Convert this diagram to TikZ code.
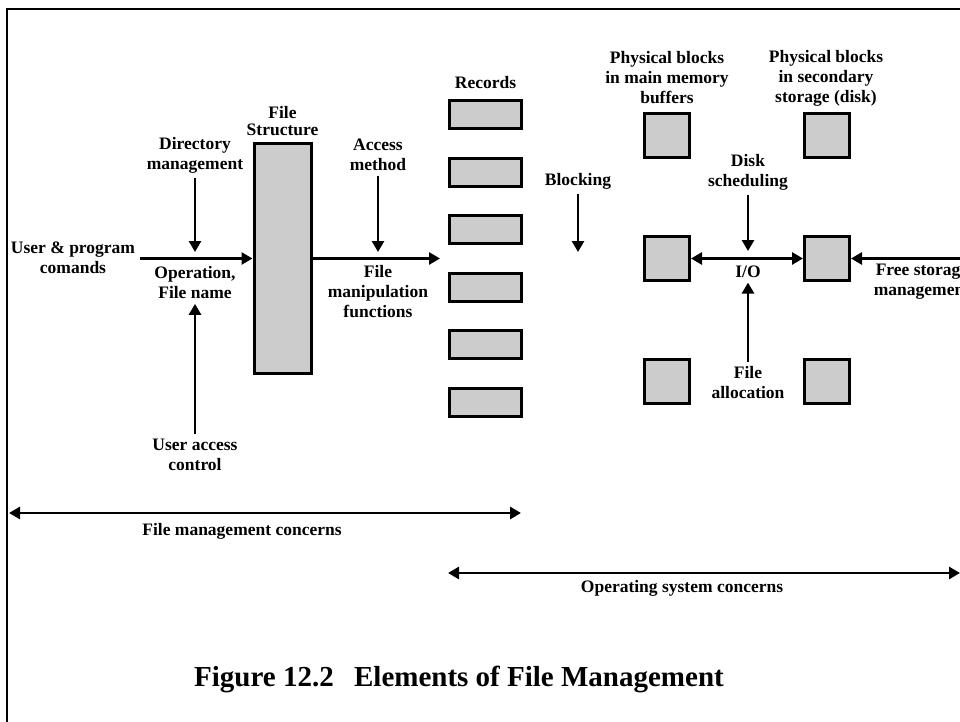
\documentclass[tikz,border=0pt]{standalone}
\usepackage{fontspec}
\setmainfont{Liberation Serif}
\usetikzlibrary{arrows.meta}
\begin{document}
\begin{tikzpicture}[x=1pt,y=-1pt,
  lbl/.style={font=\fontsize{17.5}{20}\selectfont\bfseries,align=center,inner sep=4.5pt},
  blk/.style={draw,line width=3pt,fill=black!20},
  arr/.style={line width=2.8pt,-{Triangle[length=11pt,width=12pt]}},
  darr/.style={line width=2.8pt,{Triangle[length=11pt,width=12pt]}-{Triangle[length=11pt,width=12pt]}}]
\useasboundingbox (0,0) rectangle (960,722);
\clip (0,0) rectangle (960,722);
\fill[white] (0,0) rectangle (960,722);
% frame
\draw[line width=2.2pt] (7,740) -- (7,9) -- (980,9);

% file structure
\node[blk,minimum width=57pt,minimum height=229pt] (fs) at (282.5,258.5) {};
\node[lbl,font=\fontsize{17.5}{17}\selectfont\bfseries] (fsl) at (282.5,121) {File\\Structure};

\node[lbl] (dm) at (195,155) {Directory\\management};
\node[lbl] (upc) at (73,258) {User \& program\\comands};
\node[lbl] (opf) at (195,283) {Operation,\\File name};
\node[lbl] (uac) at (195,455) {User access\\control};
\node[lbl] (am) at (378,155) {Access\\method};
\node[lbl] (fmf) at (378,292) {File\\manipulation\\functions};

\coordinate (c1) at (195,252);
\coordinate (c2) at (378,252);
\coordinate (c3) at (440,258.5);
\coordinate (c4) at (578,252);

\draw[arr] (dm.south) -- (c1);
\draw[arr] (upc.east |- fs.west) -- (fs.west);
\draw[arr] (uac.north) -- (opf.south);
\draw[arr] (am.south) -- (c2);
\draw[arr] (fs.east) -- (c3);

% records
\node[lbl] (recl) at (485.5,83) {Records};
\foreach \i/\y in {1/114.5,2/172.1,3/229.7,4/287.3,5/344.9,6/402.5}
  \node[blk,minimum width=72pt,minimum height=28pt] (r\i) at (485.5,\y) {};

\node[lbl] (blkl) at (578,181) {Blocking};
\draw[arr] (blkl.south) -- (c4);

% physical blocks
\node[lbl] (pm) at (667,78) {Physical blocks\\in main memory\\buffers};
\node[lbl] (ps) at (826,78) {Physical blocks\\in secondary\\storage (disk)};
\foreach \n/\x/\y in {m1/667/135.5,d1/827/135.5,m2/667/258.5,d2/827/258.5,m3/667/381.5,d3/827/381.5}
  \node[blk,minimum width=45pt,minimum height=44pt] (\n) at (\x,\y) {};

\node[lbl] (ds) at (748,172) {Disk\\scheduling};
\node[lbl] (io) at (748,272) {I/O};
\node[lbl] (fa) at (748,383) {File\\allocation};
\node[lbl] (fsm) at (922,282) {Free storage\\management};
\coordinate (c5) at (748,251);
\coordinate (c6) at (975,258.5);

\draw[arr] (ds.south) -- (c5);
\draw[arr] (fa.north) -- (io.south);
\draw[darr] (m2.east) -- (d2.west);
\draw[arr] (c6) -- (d2.east);

% concerns
\coordinate (f1) at (9,513);
\coordinate (f2) at (521,513);
\node[lbl] (fmc) at (242,531) {File management concerns};
\draw[darr] (f1) -- (f2);

\coordinate (o1) at (448,573);
\coordinate (o2) at (960,573);
\node[lbl] (osc) at (682,588) {Operating system concerns};
\draw[darr] (o1) -- (o2);

\node[font=\fontsize{29}{32}\selectfont\bfseries,inner sep=0pt] (cap) at (459,679) {Figure 12.2\hspace{0.7em}Elements of File Management};
\end{tikzpicture}
\end{document}
